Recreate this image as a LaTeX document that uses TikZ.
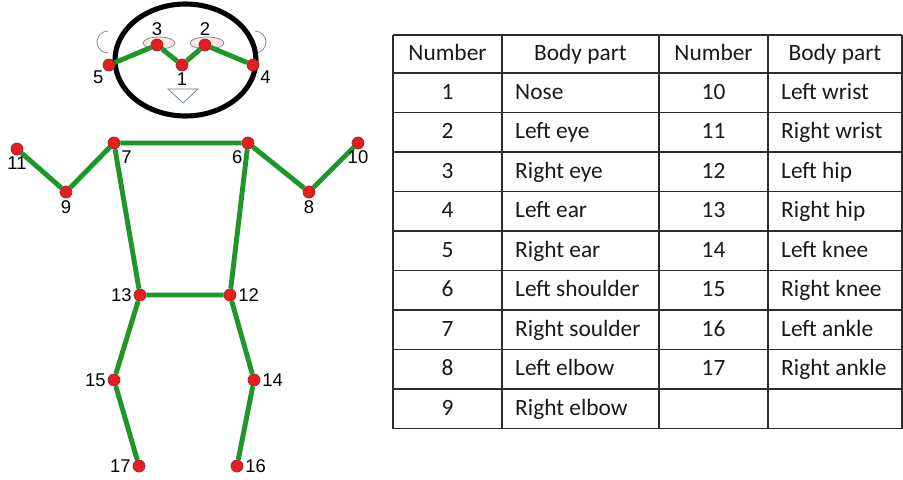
\documentclass[tikz,border=0pt]{standalone}
\usepackage{fontspec}
\setmainfont{Liberation Sans}
\newfontfamily\tablefont{Carlito}
\usetikzlibrary{positioning}

\definecolor{limb}{RGB}{30,150,40}
\definecolor{joint}{RGB}{228,32,30}
\definecolor{jointrim}{RGB}{150,35,45}
\definecolor{gridline}{RGB}{45,45,45}

\begin{document}
\begin{tikzpicture}[x=0.02cm, y=-0.02cm]
\tikzstyle{joint_style} = [circle, fill=joint, draw=jointrim, thin, inner sep=0pt, minimum size=0.24cm]
\tikzstyle{limb_style} = [draw=limb, line width=2.8pt]
\tikzstyle{num_style} = [font=\fontsize{10.5}{12}\selectfont, inner sep=1pt]
\tikzstyle{cell_style} = [font=\tablefont\fontsize{13.3}{15}\selectfont, text=black!90, text height=1.6ex, text depth=0.4ex]

\useasboundingbox (0,0) rectangle (903,480);

% head
\draw[gray, thin] (108,64) ++(0,-11) arc[start angle=-90, end angle=-270, radius=0.22cm];
\draw[gray, thin] (255,64) ++(0,-11) arc[start angle=-90, end angle=90, radius=0.22cm];
\draw[line width=2.9pt] (185.5,60) ellipse [x radius=1.41cm, y radius=1.12cm];
\draw[gray, thin, fill=red!10] (159,43) ellipse [x radius=0.32cm, y radius=0.12cm];
\draw[gray, thin, fill=red!10] (207,43) ellipse [x radius=0.34cm, y radius=0.12cm];
\draw[draw={rgb,255:red,100;green,125;blue,150}, thin] (168,89) -- (198,89) -- (183,103) -- cycle;

% joints
\node[joint_style] (j1) at (182,65) {};
\node[joint_style] (j2) at (205,45) {};
\node[joint_style] (j3) at (157,45) {};
\node[joint_style] (j4) at (253,65) {};
\node[joint_style] (j5) at (109,65) {};
\node[joint_style] (j6) at (248,143) {};
\node[joint_style] (j7) at (114,143) {};
\node[joint_style] (j8) at (309,192) {};
\node[joint_style] (j9) at (66,192) {};
\node[joint_style] (j10) at (358,143) {};
\node[joint_style] (j11) at (17,149) {};
\node[joint_style] (j12) at (230,295) {};
\node[joint_style] (j13) at (140,295) {};
\node[joint_style] (j14) at (254,380) {};
\node[joint_style] (j15) at (114,380) {};
\node[joint_style] (j16) at (237,466) {};
\node[joint_style] (j17) at (139,466) {};

% limbs
\draw[limb_style] (j5) -- (j3) -- (j1) -- (j2) -- (j4);
\draw[limb_style] (j11) -- (j9) -- (j7) -- (j6) -- (j8) -- (j10);
\draw[limb_style] (j7) -- (j13) -- (j12) -- (j6);
\draw[limb_style] (j13) -- (j15) -- (j17);
\draw[limb_style] (j12) -- (j14) -- (j16);

% joint numbers
\node[num_style, below=-0.5pt of j1] (l1) {1};
\node[num_style, above=0.5pt of j2] (l2) {2};
\node[num_style, above=0.5pt of j3] (l3) {3};
\node[num_style, below right=-0.5pt and 0.5pt of j4] (l4) {4};
\node[num_style, below left=-0.5pt and -0.5pt of j5] (l5) {5};
\node[num_style, below left=0.5pt and -0.5pt of j6] (l6) {6};
\node[num_style, below right=0.5pt and 0.5pt of j7] (l7) {7};
\node[num_style, below=0pt of j8] (l8) {8};
\node[num_style, below=0pt of j9] (l9) {9};
\node[num_style, below=-0.5pt of j10] (l10) {10};
\node[num_style, below=-0.5pt of j11] (l11) {11};
\node[num_style, right=0pt of j12] (l12) {12};
\node[num_style, left=0pt of j13] (l13) {13};
\node[num_style, right=0pt of j14] (l14) {14};
\node[num_style, left=0pt of j15] (l15) {15};
\node[num_style, right=0pt of j16] (l16) {16};
\node[num_style, left=0pt of j17] (l17) {17};

% table grid
\foreach \y in {35,73,112.5,152,191.5,231,270.5,310,349.5,389,428.5}
  \draw[gridline, line width=0.9pt] (393,\y) -- (902,\y);
\foreach \x in {393,502,659,768,902}
  \draw[gridline, line width=0.9pt] (\x,35) -- (\x,428.5);

% table text
\node[cell_style] (h1) at (447.5,54.5) {Number};
\node[cell_style] (h2) at (580.5,54.5) {Body part};
\node[cell_style] (h3) at (713.5,54.5) {Number};
\node[cell_style] (h4) at (835,54.5) {Body part};
\foreach \n/\part [count=\r] in {1/Nose, 2/Left eye, 3/Right eye, 4/Left ear,
    5/Right ear, 6/Left shoulder, 7/Right soulder, 8/Left elbow, 9/Right elbow} {
  \node[cell_style] (num\r) at (447.5,{54+39.5*\r}) {\n};
  \node[cell_style, anchor=west] (part\r) at (509,{54+39.5*\r}) {\part};
}
\foreach \n/\part [count=\r] in {10/Left wrist, 11/Right wrist, 12/Left hip, 13/Right hip,
    14/Left knee, 15/Right knee, 16/Left ankle, 17/Right ankle} {
  \node[cell_style] (rnum\r) at (713.5,{54+39.5*\r}) {\n};
  \node[cell_style, anchor=west] (rpart\r) at (775,{54+39.5*\r}) {\part};
}
\end{tikzpicture}
\end{document}
